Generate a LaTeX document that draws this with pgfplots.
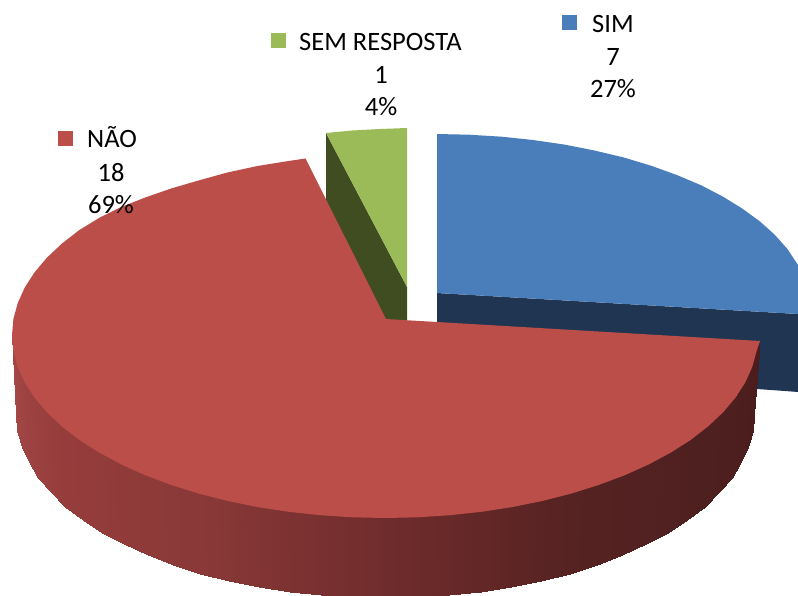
\documentclass[border=0pt]{standalone}
\usepackage{pgfplots}
\usepackage{fontspec}
\setmainfont{Carlito}
\pgfplotsset{compat=1.18}
\definecolor{cblue}{HTML}{4A7EBB}
\definecolor{cbluedark}{HTML}{1F3552}
\definecolor{cred}{HTML}{BC4E4A}
\definecolor{cgreen}{HTML}{9BBB59}
\definecolor{cgreendark}{HTML}{3F4D21}
\newcommand{\lab}[1]{{\fontsize{26.5}{30}\selectfont #1}}
\begin{document}
\begin{tikzpicture}[x=1pt,y=1pt]
\useasboundingbox (0,0) rectangle (798pt,595pt);
\begin{axis}[
  at={(0,0)}, anchor=south west,
  scale only axis, width=798pt, height=595pt,
  xmin=0, xmax=798, ymin=0, ymax=595, y dir=reverse,
  axis lines=none, clip=true,
  point meta min=0, point meta max=180,
  colormap={side}{rgb255=(74,28,28) rgb255=(78,32,32) rgb255=(86,34,34) rgb255=(112,44,44) rgb255=(138,57,56) rgb255=(150,61,60) rgb255=(165,72,72)},
]
% blue side
\addplot[fill=cbluedark, draw=none] coordinates {(437,293)(798,314)(798,392)(785,391)(757,389)(437,322)} -- cycle;
% blue top
\addplot[fill=cblue, draw=none] coordinates {(437,134)(469,134.7)(501.8,136.7)(533,140)(564.6,144.6)(594,150.4)(623.5,157.4)(651,165.7)(676.8,175)(701,185.2)(722.7,196.5)(742,208.4)(760,221.5)(775,235)(787.5,249.1)(798,265)(798,314)(437,293)} -- cycle;
% green side
\addplot[fill=cgreendark, draw=none] coordinates {(326,133)(407,287)(407,322)(380,322)(326,200)} -- cycle;
% green top
\addplot[fill=cgreen, draw=none] coordinates {(326,133)(352,130.5)(380,129)(407,128)(407,287)} -- cycle;
% red side
\addplot[surf, shader=interp, mesh/rows=2, mesh/cols=37, point meta=explicit] table[x=x, y=y, meta=c] {
x y c
760 341 0
756.6 349 5
752.3 365 10
745.3 380 15
735.5 396 20
723.1 410 25
708 425 30
690.6 438 35
670.7 451 40
648.8 462 45
624.8 473 50
598.9 483 55
571.5 492 60
542.6 499 65
512.6 505 70
481.5 510 75
449.8 513 80
417.5 515 85
385 516 90
352.5 515 95
320.2 513 100
288.5 510 105
257.4 505 110
227.4 499 115
198.5 492 120
171.1 483 125
145.2 473 130
121.2 462 135
99.3 451 140
79.4 438 145
62 425 150
46.9 410 155
34.5 396 160
24.7 380 165
17.7 365 170
13.4 349 175
12 335 180
754 415 0
752.6 431 5
748.4 446.8 10
741.4 462.4 15
731.7 477.6 20
719.4 492.3 25
704.6 506.5 30
687.3 520 35
667.7 532.6 40
645.9 544.4 45
622.2 555.2 50
596.7 564.9 55
569.5 573.5 60
540.9 580.9 65
511.2 587 70
480.5 591.8 75
449.1 595.2 80
417.2 597.3 85
385 598 90
352.8 597.3 95
320.9 595.2 100
289.5 591.8 105
258.8 587 110
229.1 580.9 115
200.5 573.5 120
173.3 564.9 125
147.8 555.2 130
124.1 544.4 135
102.3 532.6 140
82.7 520 145
65.4 506.5 150
50.6 492.3 155
38.3 477.6 160
28.6 462.4 165
21.6 446.8 170
17.4 431 175
16 415 180
};
% red top
\addplot[fill=cred, draw=none] coordinates {(386,319)(760,341)(756.6,351)(752.3,366.8)(745.3,382.4)(735.5,397.6)(723.1,412.3)(708,426.5)(690.6,440)(670.7,452.6)(648.8,464.4)(624.8,475.2)(598.9,484.9)(571.5,493.5)(542.6,500.9)(512.6,507)(481.5,511.8)(449.8,515.2)(417.5,517.3)(385,518)(352.5,517.3)(320.2,515.2)(288.5,511.8)(257.4,507)(227.4,500.9)(198.5,493.5)(171.1,484.9)(145.2,475.2)(121.2,464.4)(99.3,452.6)(79.4,440)(62,426.5)(46.9,412.3)(34.5,397.6)(24.7,382.4)(17.7,366.8)(13.4,351)(12,335)(13.4,319)(17.7,303.2)(24.7,287.6)(34.5,272.4)(46.9,257.7)(62,243.5)(79.4,230)(99.3,217.8)(121.2,207)(145.2,197.5)(171.1,188.5)(198.5,180.5)(227.4,172.5)(257.4,166)(288.5,161)(305.5,158.5)} -- cycle;
% legend keys
\addplot[fill=cblue, draw=none] coordinates {(562,15)(577,15)(577,30)(562,30)} -- cycle;
\addplot[fill=cgreen, draw=none] coordinates {(271,33)(286,33)(286,48)(271,48)} -- cycle;
\addplot[fill=cred, draw=none] coordinates {(58,131)(73,131)(73,146)(58,146)} -- cycle;
% labels
\node[inner sep=0pt, anchor=base west] at (axis cs:592,32) {\lab{SIM}};
\node[inner sep=0pt, anchor=base] at (axis cs:613,65) {\lab{7}};
\node[inner sep=0pt, anchor=base] at (axis cs:613,97) {\lab{27\%}};
\node[inner sep=0pt, anchor=base west] at (axis cs:299,50) {\lab{SEM RESPOSTA}};
\node[inner sep=0pt, anchor=base] at (axis cs:381,83) {\lab{1}};
\node[inner sep=0pt, anchor=base] at (axis cs:381,115) {\lab{4\%}};
\node[inner sep=0pt, anchor=base west] at (axis cs:87,147) {\lab{NÃO}};
\node[inner sep=0pt, anchor=base] at (axis cs:111,181) {\lab{18}};
\node[inner sep=0pt, anchor=base] at (axis cs:111,213) {\lab{69\%}};
\end{axis}
\end{tikzpicture}
\end{document}
